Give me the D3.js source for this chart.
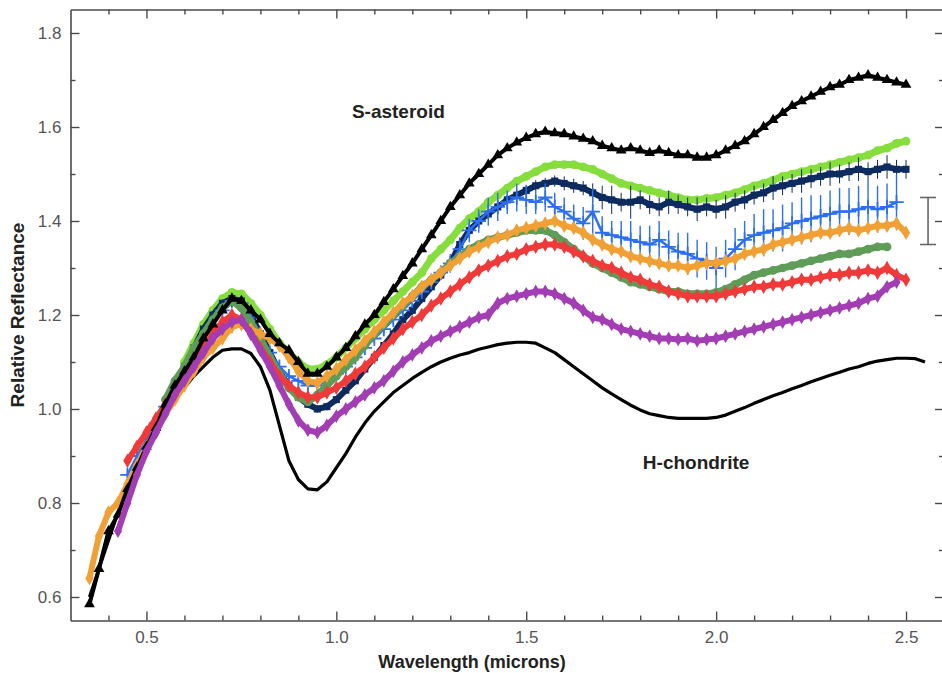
<!DOCTYPE html>
<html><head><meta charset="utf-8">
<script src="https://cdn.jsdelivr.net/npm/d3@7"></script>
<style>
body{margin:0;background:#fff}
svg{display:block}
text{font-family:"Liberation Sans",Arial,Helvetica,sans-serif}
</style>
</head><body>
<svg id="chart" width="942" height="673"></svg>
<script>
// ---------- DATA ----------
const wavelengths = [
 0.350,0.375,0.400,0.425,0.450,0.475,0.500,0.525,0.550,0.575,
 0.600,0.625,0.650,0.675,0.700,0.725,0.750,0.775,0.800,0.825,
 0.850,0.875,0.900,0.925,0.950,0.975,1.000,1.025,1.050,1.075,
 1.100,1.125,1.150,1.175,1.200,1.225,1.250,1.275,1.300,1.325,
 1.350,1.375,1.400,1.425,1.450,1.475,1.500,1.525,1.550,1.575,
 1.600,1.625,1.650,1.675,1.700,1.725,1.750,1.775,1.800,1.825,
 1.850,1.875,1.900,1.925,1.950,1.975,2.000,2.025,2.050,2.075,
 2.100,2.125,2.150,2.175,2.200,2.225,2.250,2.275,2.300,2.325,
 2.350,2.375,2.400,2.425,2.450,2.475,2.500,2.525,2.550];

const hChondrite = [
 0.60,0.66,0.72,0.78,0.83,0.88,0.92,0.96,0.99,1.02,
 1.045,1.07,1.09,1.11,1.125,1.128,1.128,1.118,1.09,1.04,
 0.965,0.89,0.85,0.83,0.828,0.845,0.875,0.905,0.94,0.97,
 0.995,1.015,1.035,1.05,1.065,1.078,1.09,1.10,1.108,1.115,
 1.12,1.127,1.132,1.137,1.14,1.142,1.142,1.14,1.13,1.12,
 1.105,1.09,1.075,1.06,1.045,1.032,1.02,1.008,0.998,0.99,
 0.986,0.982,0.98,0.98,0.98,0.98,0.982,0.987,0.995,1.003,
 1.012,1.02,1.028,1.035,1.043,1.05,1.058,1.065,1.072,1.078,
 1.085,1.09,1.097,1.102,1.105,1.108,1.108,1.107,1.10];

const sAsteroid = [
 0.585,0.66,0.74,0.775,0.83,0.875,0.92,0.96,1.01,1.05,
 1.08,1.11,1.15,1.18,1.21,1.235,1.23,1.21,1.19,1.16,
 1.14,1.125,1.10,1.075,1.075,1.09,1.11,1.13,1.155,1.18,
 1.20,1.228,1.255,1.283,1.31,1.34,1.37,1.40,1.43,1.455,
 1.48,1.50,1.52,1.54,1.555,1.567,1.577,1.585,1.59,1.587,
 1.585,1.58,1.575,1.57,1.56,1.555,1.55,1.555,1.55,1.545,
 1.55,1.545,1.54,1.54,1.535,1.535,1.54,1.55,1.56,1.57,
 1.585,1.60,1.615,1.63,1.645,1.655,1.665,1.675,1.685,1.69,
 1.70,1.705,1.71,1.705,1.70,1.695,1.69,null,null];

const lightGreen = [
 null,null,null,null,null,null,null,null,null,null,
 1.10,1.14,1.18,1.21,1.235,1.248,1.245,1.225,1.20,1.17,
 1.14,1.12,1.10,1.085,1.085,1.095,1.11,1.13,1.15,1.17,
 1.19,1.21,1.23,1.25,1.27,1.29,1.32,1.34,1.36,1.385,
 1.405,1.42,1.44,1.455,1.47,1.485,1.495,1.505,1.515,1.52,
 1.52,1.52,1.515,1.51,1.50,1.49,1.48,1.475,1.47,1.465,
 1.46,1.455,1.45,1.445,1.445,1.448,1.45,1.455,1.46,1.467,
 1.475,1.48,1.487,1.495,1.50,1.505,1.51,1.515,1.52,1.525,
 1.53,1.535,1.54,1.55,1.555,1.565,1.57,null,null];

const navy = [
 null,null,null,null,null,null,null,null,null,null,
 1.09,1.13,1.17,1.20,1.225,1.235,1.23,1.20,1.16,1.12,
 1.08,1.05,1.025,1.01,1.00,1.005,1.02,1.04,1.06,1.085,
 1.11,1.135,1.16,1.19,1.21,1.235,1.26,1.285,1.31,1.35,
 1.38,1.40,1.415,1.43,1.445,1.455,1.465,1.475,1.48,1.485,
 1.48,1.475,1.47,1.46,1.45,1.445,1.44,1.44,1.445,1.435,
 1.43,1.44,1.435,1.43,1.425,1.43,1.425,1.43,1.44,1.445,
 1.455,1.46,1.47,1.475,1.48,1.485,1.49,1.495,1.50,1.50,
 1.505,1.51,1.505,1.51,1.515,1.51,1.51,null,null];

const navyErr = [
 null,null,null,null,null,null,null,null,null,null,
 0.008,0.008,0.008,0.008,0.008,0.008,0.008,0.008,0.008,0.008,
 0.008,0.008,0.008,0.008,0.008,0.008,0.008,0.008,0.008,0.008,
 0.008,0.008,0.008,0.008,0.01,0.01,0.01,0.01,0.012,0.015,
 0.015,0.012,0.012,0.012,0.012,0.012,0.012,0.012,0.012,0.012,
 0.015,0.015,0.015,0.02,0.025,0.03,0.02,0.035,0.02,0.02,
 0.02,0.025,0.02,0.02,0.025,0.02,0.02,0.025,0.02,0.02,
 0.02,0.02,0.025,0.02,0.02,0.025,0.02,0.02,0.025,0.02,
 0.02,0.025,0.02,0.02,0.025,0.02,0.02,null,null];

const blue = [
 null,null,null,null,0.86,0.90,0.935,0.97,1.005,1.04,
 1.075,1.11,1.145,1.18,1.21,1.23,1.225,1.195,1.16,1.12,
 1.09,1.07,1.06,1.05,1.05,1.06,1.075,1.09,1.11,1.13,
 1.15,1.17,1.19,1.21,1.23,1.25,1.27,1.29,1.31,1.34,
 1.38,1.40,1.42,1.43,1.44,1.45,1.445,1.44,1.45,1.43,
 1.42,1.405,1.395,1.42,1.375,1.37,1.365,1.36,1.355,1.35,
 1.36,1.345,1.335,1.33,1.32,1.315,1.30,1.32,1.34,1.36,
 1.37,1.375,1.38,1.385,1.395,1.40,1.405,1.41,1.415,1.42,
 1.42,1.425,1.43,1.425,1.43,1.44,null,null,null];

const blueErr = [
 null,null,null,null,0.01,0.01,0.01,0.01,0.01,0.01,
 0.01,0.01,0.01,0.01,0.01,0.01,0.01,0.01,0.01,0.01,
 0.01,0.01,0.01,0.01,0.01,0.01,0.01,0.01,0.01,0.01,
 0.01,0.01,0.01,0.01,0.012,0.012,0.015,0.015,0.02,0.02,
 0.025,0.025,0.03,0.03,0.025,0.03,0.03,0.025,0.03,0.03,
 0.03,0.03,0.035,0.05,0.035,0.03,0.035,0.04,0.035,0.04,
 0.04,0.035,0.04,0.045,0.04,0.04,0.045,0.04,0.045,0.04,
 0.045,0.05,0.045,0.05,0.045,0.05,0.05,0.045,0.05,0.05,
 0.05,0.05,0.055,0.05,0.05,0.06,null,null,null];

const midGreen = [
 null,null,null,null,null,null,null,null,1.02,1.06,
 1.09,1.13,1.16,1.19,1.215,1.23,1.215,1.185,1.15,1.11,
 1.075,1.045,1.025,1.015,1.03,1.05,1.07,1.09,1.11,1.135,
 1.16,1.18,1.20,1.22,1.24,1.26,1.275,1.29,1.31,1.325,
 1.34,1.35,1.36,1.365,1.37,1.375,1.38,1.38,1.38,1.37,
 1.355,1.34,1.325,1.31,1.30,1.29,1.28,1.27,1.265,1.26,
 1.255,1.25,1.25,1.245,1.245,1.245,1.248,1.255,1.265,1.275,
 1.285,1.29,1.295,1.30,1.305,1.31,1.315,1.32,1.325,1.33,
 1.33,1.335,1.34,1.345,1.345,null,null,null,null];

const orange = [
 0.64,0.73,0.78,0.80,0.84,0.88,0.92,0.95,0.99,1.02,
 1.05,1.08,1.11,1.13,1.15,1.175,1.18,1.17,1.16,1.15,
 1.135,1.11,1.08,1.06,1.055,1.07,1.085,1.105,1.125,1.145,
 1.165,1.185,1.205,1.225,1.24,1.26,1.275,1.29,1.305,1.32,
 1.335,1.345,1.355,1.365,1.37,1.38,1.385,1.39,1.395,1.40,
 1.39,1.385,1.375,1.36,1.35,1.34,1.335,1.325,1.32,1.315,
 1.31,1.305,1.305,1.30,1.305,1.31,1.31,1.315,1.32,1.33,
 1.335,1.34,1.35,1.355,1.36,1.365,1.37,1.375,1.375,1.38,
 1.385,1.38,1.385,1.39,1.39,1.395,1.375,null,null];

const red = [
 null,null,null,null,0.89,0.92,0.95,0.98,1.01,1.04,
 1.07,1.10,1.13,1.16,1.185,1.20,1.19,1.16,1.13,1.10,
 1.07,1.05,1.035,1.025,1.025,1.035,1.045,1.06,1.075,1.09,
 1.11,1.13,1.15,1.17,1.185,1.20,1.22,1.235,1.25,1.265,
 1.28,1.295,1.305,1.315,1.325,1.33,1.34,1.345,1.35,1.35,
 1.345,1.335,1.325,1.315,1.305,1.30,1.29,1.28,1.275,1.265,
 1.26,1.25,1.245,1.24,1.24,1.24,1.24,1.245,1.25,1.255,
 1.26,1.26,1.265,1.265,1.27,1.275,1.275,1.28,1.285,1.285,
 1.29,1.29,1.295,1.29,1.30,1.285,1.275,null,null];

const purple = [
 null,null,null,0.74,0.80,0.86,0.91,0.95,0.99,1.03,
 1.06,1.09,1.12,1.15,1.17,1.185,1.19,1.16,1.125,1.09,
 1.05,1.01,0.975,0.955,0.95,0.965,0.985,1.00,1.015,1.03,
 1.045,1.06,1.08,1.10,1.115,1.13,1.145,1.155,1.165,1.175,
 1.185,1.195,1.20,1.225,1.235,1.24,1.245,1.25,1.25,1.245,
 1.235,1.225,1.21,1.195,1.19,1.18,1.17,1.165,1.16,1.155,
 1.15,1.15,1.148,1.15,1.145,1.148,1.15,1.155,1.16,1.165,
 1.17,1.175,1.18,1.185,1.19,1.195,1.20,1.205,1.21,1.215,
 1.22,1.225,1.235,1.24,1.26,1.27,null,null,null];

// typical-uncertainty bar at the right edge: [wavelength, centre, half-length]
const sampleErrorBar = [2.558, 1.40, 0.05];

const xMajorTicks = [0.5, 1.0, 1.5, 2.0, 2.5];
const xMinorTicks = [0.4,0.6,0.7,0.8,0.9,1.1,1.2,1.3,1.4,1.6,1.7,1.8,1.9,2.1,2.2,2.3,2.4];
const yMajorTicks = [0.6, 0.8, 1.0, 1.2, 1.4, 1.6, 1.8];
const yMinorTicks = [0.7, 0.9, 1.1, 1.3, 1.5, 1.7];

const labels = [
  {text: "S-asteroid", w: 1.041, v: 1.619},
  {text: "H-chondrite", w: 1.807, v: 0.872}
];

// ---------- CHART ----------
const svg = d3.select("#chart");
const x = d3.scaleLinear().domain([0.3, 2.6]).range([70.5, 944]);
const y = d3.scaleLinear().domain([0.55, 1.85]).range([620.5, 9.5]);
const axisColor = "#4a4a4a";
const fmt = d3.format(".1f");

function styleAxis(g, showText) {
  g.select(".domain").attr("stroke", axisColor).attr("stroke-width", 1.6);
  g.selectAll(".tick line").attr("stroke", axisColor).attr("stroke-width", 1.4);
  g.selectAll(".tick text").attr("fill", "#555").attr("font-size", 17)
    .attr("font-family", "'Liberation Sans', Arial, sans-serif");
  if (!showText) g.selectAll(".tick text").remove();
}
// bottom
svg.append("g").attr("transform", "translate(0,620.5)")
  .call(d3.axisBottom(x).tickValues(xMajorTicks).tickSize(-9).tickSizeOuter(0).tickPadding(10).tickFormat(fmt))
  .call(g => styleAxis(g, true));
svg.append("g").attr("transform", "translate(0,620.5)")
  .call(d3.axisBottom(x).tickValues(xMinorTicks).tickSize(-5).tickSizeOuter(0).tickFormat(""))
  .call(g => { styleAxis(g, false); g.select(".domain").remove(); });
// top
svg.append("g").attr("transform", "translate(0,9.5)")
  .call(d3.axisTop(x).tickValues(xMajorTicks).tickSize(-9).tickSizeOuter(0).tickFormat(""))
  .call(g => styleAxis(g, false));
svg.append("g").attr("transform", "translate(0,9.5)")
  .call(d3.axisTop(x).tickValues(xMinorTicks).tickSize(-5).tickSizeOuter(0).tickFormat(""))
  .call(g => { styleAxis(g, false); g.select(".domain").remove(); });
// left
svg.append("g").attr("transform", "translate(70.5,0)")
  .call(d3.axisLeft(y).tickValues(yMajorTicks).tickSize(-9).tickSizeOuter(0).tickPadding(9).tickFormat(fmt))
  .call(g => styleAxis(g, true));
svg.append("g").attr("transform", "translate(70.5,0)")
  .call(d3.axisLeft(y).tickValues(yMinorTicks).tickSize(-5).tickSizeOuter(0).tickFormat(""))
  .call(g => { styleAxis(g, false); g.select(".domain").remove(); });
// right (frame edge lies just outside the picture)
svg.append("g").attr("transform", "translate(944,0)")
  .call(d3.axisRight(y).tickValues(yMajorTicks).tickSize(-9).tickSizeOuter(0).tickFormat(""))
  .call(g => styleAxis(g, false));
svg.append("g").attr("transform", "translate(944,0)")
  .call(d3.axisRight(y).tickValues(yMinorTicks).tickSize(-5).tickSizeOuter(0).tickFormat(""))
  .call(g => { styleAxis(g, false); g.select(".domain").remove(); });

// axis titles
svg.append("text").attr("x", 472).attr("y", 668).attr("text-anchor", "middle")
  .attr("font-weight", "bold").attr("font-size", 18).attr("fill", "#222").text("Wavelength (microns)");
svg.append("text").attr("transform", "translate(24,315) rotate(-90)").attr("text-anchor", "middle")
  .attr("font-weight", "bold").attr("font-size", 19).attr("fill", "#222").text("Relative Reflectance");

const plot = svg.append("g");

function points(vals, errs) {
  return wavelengths.map((w, i) => ({w, v: vals[i], e: errs ? errs[i] : null}))
    .filter(d => d.v !== null && d.v !== undefined);
}
const line = d3.line().x(d => x(d.w)).y(d => y(d.v));

function drawSeries(opts) {
  const pts = points(opts.values, opts.errors);
  const g = plot.append("g");
  if (opts.band) {
    g.append("path").datum(pts).attr("d", line).attr("fill", "none")
      .attr("stroke", opts.color).attr("stroke-width", opts.band)
      .attr("stroke-linejoin", "round").attr("stroke-linecap", "round");
  }
  if (opts.errors) {
    g.selectAll("line.err").data(pts.filter(d => d.e)).join("line")
      .attr("x1", d => x(d.w)).attr("x2", d => x(d.w))
      .attr("y1", d => y(d.v - d.e)).attr("y2", d => y(d.v + d.e))
      .attr("stroke", opts.errColor || opts.color).attr("stroke-width", opts.errWidth || 1.2);
  }
  const sym = d3.symbol().type(opts.symbol).size(opts.size);
  g.selectAll("path.m").data(pts).join("path")
    .attr("transform", d => `translate(${x(d.w)},${y(d.v)})`)
    .attr("d", sym)
    .attr("fill", opts.stroke ? "none" : opts.color)
    .attr("stroke", opts.stroke ? opts.color : "none")
    .attr("stroke-width", opts.stroke || 0);
}

// H-chondrite (solid line)
plot.append("path").datum(points(hChondrite)).attr("d", line).attr("fill", "none")
  .attr("stroke", "#000").attr("stroke-width", 3.2).attr("stroke-linejoin", "round");

drawSeries({values: lightGreen, color: "#86de3c", symbol: d3.symbolCircle, size: 60, band: 7});
drawSeries({values: navy, errors: navyErr, color: "#0d2b5e", symbol: d3.symbolSquare, size: 50, band: 6, errWidth: 1});
drawSeries({values: blue, errors: blueErr, color: "#2c6ff0", symbol: d3.symbolPlus, size: 70, stroke: 1.8, band: 2.5, errWidth: 1.4});
drawSeries({values: midGreen, color: "#5e9c58", symbol: d3.symbolCircle, size: 60, band: 7});
drawSeries({values: orange, color: "#f0a035", symbol: d3.symbolDiamond, size: 60, band: 6});
drawSeries({values: red, color: "#f03a3a", symbol: d3.symbolDiamond, size: 60, band: 6});
drawSeries({values: sAsteroid, color: "#000", symbol: d3.symbolTriangle, size: 50, band: 4});
drawSeries({values: purple, color: "#a23db4", symbol: d3.symbolDiamond, size: 55, band: 6});

// representative error bar
const [ew, ev, ee] = sampleErrorBar;
const eb = svg.append("g").attr("stroke", "#666").attr("stroke-width", 1.6);
eb.append("line").attr("x1", x(ew)).attr("x2", x(ew)).attr("y1", y(ev - ee)).attr("y2", y(ev + ee));
eb.append("line").attr("x1", x(ew) - 8).attr("x2", x(ew) + 8).attr("y1", y(ev - ee)).attr("y2", y(ev - ee));
eb.append("line").attr("x1", x(ew) - 8).attr("x2", x(ew) + 8).attr("y1", y(ev + ee)).attr("y2", y(ev + ee));

// curve labels
svg.selectAll("text.lab").data(labels).join("text")
  .attr("x", d => x(d.w)).attr("y", d => y(d.v))
  .attr("font-weight", "bold").attr("font-size", 19).attr("fill", "#222")
  .text(d => d.text);
</script>
</body></html>
